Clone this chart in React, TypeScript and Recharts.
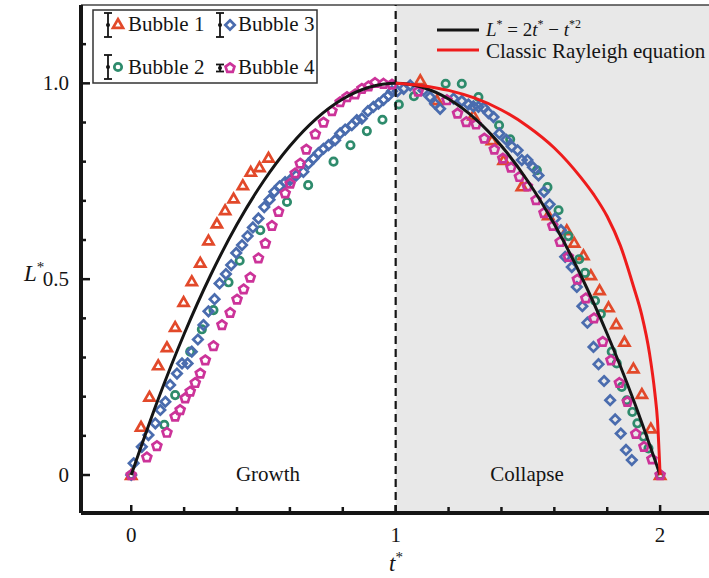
import React from 'react';
import { ComposedChart, Line, Scatter, XAxis, YAxis, ReferenceArea, ReferenceLine } from 'recharts';

const FONT = '"Liberation Serif", "Times New Roman", serif';
const INK = '#151515';

// Bubble 1 (triangles)
const bubble1T = [0, 0.037, 0.069, 0.102, 0.135, 0.166, 0.198, 0.229, 0.261, 0.292, 0.324, 0.355, 0.387, 0.422, 0.452, 0.485, 0.519,
  1.093, 1.156, 1.294, 1.364, 1.408, 1.477, 1.577, 1.647, 1.675, 1.71, 1.738, 1.771, 1.805, 1.834, 1.865, 1.899, 1.931, 1.965, 2.0];
const bubble1L = [0, 0.123, 0.2, 0.28, 0.326, 0.378, 0.442, 0.495, 0.542, 0.599, 0.642, 0.676, 0.706, 0.74, 0.774, 0.786, 0.81,
  1.008, 0.957, 0.918, 0.855, 0.804, 0.737, 0.663, 0.625, 0.593, 0.561, 0.51, 0.472, 0.428, 0.385, 0.34, 0.272, 0.207, 0.119, 0];

// Bubble 2 (circles)
const bubble2T = [0, 0.125, 0.166, 0.223, 0.267, 0.311, 0.368, 0.41, 0.488, 0.589, 0.669, 0.765, 0.829, 0.891, 0.95, 1.012, 1.069,
  1.189, 1.25, 1.313, 1.391, 1.433, 1.534, 1.574, 1.616, 1.653, 1.694, 1.716, 1.754, 1.776, 1.817, 1.836, 1.855, 1.874, 1.895,
  1.914, 1.937, 1.956, 2.0];
const bubble2L = [0, 0.128, 0.204, 0.315, 0.372, 0.421, 0.492, 0.547, 0.625, 0.697, 0.74, 0.8, 0.842, 0.878, 0.907, 0.946, 0.967,
  0.999, 0.999, 0.965, 0.893, 0.857, 0.778, 0.735, 0.676, 0.61, 0.551, 0.516, 0.445, 0.411, 0.315, 0.285, 0.225, 0.191, 0.161,
  0.132, 0.098, 0.068, 0];

// Bubble 3 (diamonds)
const bubble3T = [0, 0.009, 0.04, 0.065, 0.091, 0.11, 0.129, 0.147, 0.173, 0.192, 0.213, 0.229, 0.252, 0.273, 0.292, 0.315, 0.334,
  0.358, 0.378, 0.397, 0.419, 0.44, 0.46, 0.481, 0.503, 0.523, 0.541, 0.561, 0.582, 0.601, 0.624, 0.651, 0.67, 0.689, 0.708,
  0.727, 0.746, 0.771, 0.79, 0.809, 0.834, 0.853, 0.872, 0.895, 0.916, 0.935, 0.954, 0.973, 0.986, 1.007, 1.03, 1.055,
  1.105, 1.13, 1.149, 1.168, 1.219, 1.25, 1.275, 1.294, 1.313, 1.332, 1.351, 1.37, 1.392, 1.418, 1.439, 1.461, 1.477, 1.498,
  1.519, 1.54, 1.561, 1.582, 1.603, 1.625, 1.641, 1.666, 1.685, 1.706, 1.725, 1.748, 1.767, 1.788, 1.811, 1.83, 1.851, 1.871, 1.893];
const bubble3L = [0, 0.03, 0.072, 0.102, 0.132, 0.166, 0.187, 0.23, 0.259, 0.285, 0.285, 0.315, 0.346, 0.383, 0.418, 0.449, 0.489,
  0.513, 0.536, 0.567, 0.587, 0.61, 0.632, 0.655, 0.684, 0.703, 0.723, 0.737, 0.748, 0.753, 0.765, 0.774, 0.795, 0.808, 0.822,
  0.833, 0.842, 0.855, 0.872, 0.882, 0.893, 0.906, 0.91, 0.929, 0.94, 0.948, 0.958, 0.969, 0.98, 0.98, 0.986, 0.995,
  0.982, 0.965, 0.948, 0.935, 0.961, 0.955, 0.946, 0.941, 0.94, 0.938, 0.924, 0.914, 0.872, 0.856, 0.839, 0.829, 0.804, 0.804,
  0.786, 0.765, 0.723, 0.691, 0.655, 0.625, 0.557, 0.531, 0.48, 0.431, 0.389, 0.327, 0.283, 0.24, 0.191, 0.142, 0.106, 0.064, 0.038];

// Bubble 4 (pentagons)
const bubble4T = [0, 0.059, 0.097, 0.135, 0.166, 0.185, 0.204, 0.223, 0.242, 0.261, 0.28, 0.311, 0.343, 0.374, 0.4, 0.425, 0.45,
  0.481, 0.507, 0.532, 0.557, 0.582, 0.601, 0.62, 0.639, 0.662, 0.696, 0.727, 0.759, 0.79, 0.816, 0.847, 0.872, 0.897, 0.922,
  0.954, 0.986, 1.085, 1.194, 1.234, 1.267, 1.304, 1.335, 1.373, 1.405, 1.436, 1.468, 1.498, 1.531, 1.561, 1.594, 1.622, 1.653,
  1.687, 1.719, 1.75, 1.783, 1.814, 1.846, 1.876, 1.908, 1.939, 1.969, 2.0];
const bubble4L = [0, 0.045, 0.074, 0.108, 0.149, 0.166, 0.196, 0.213, 0.235, 0.259, 0.293, 0.329, 0.383, 0.414, 0.448, 0.474, 0.504,
  0.553, 0.591, 0.636, 0.672, 0.719, 0.744, 0.77, 0.795, 0.831, 0.87, 0.9, 0.929, 0.952, 0.965, 0.972, 0.986, 0.992, 1.001,
  0.999, 0.997, 0.979, 0.957, 0.923, 0.901, 0.895, 0.859, 0.831, 0.808, 0.785, 0.761, 0.737, 0.702, 0.669, 0.636, 0.595, 0.557,
  0.499, 0.451, 0.4, 0.34, 0.293, 0.235, 0.187, 0.105, 0.072, 0.04, 0];

// L* = 2t* - t*^2
const modelT = [0, 0.1, 0.2, 0.3, 0.4, 0.5, 0.6, 0.7, 0.8, 0.9, 1.0, 1.1, 1.2, 1.3, 1.4, 1.5, 1.6, 1.7, 1.8, 1.9, 2.0];
const modelL = [0, 0.19, 0.36, 0.51, 0.64, 0.75, 0.84, 0.91, 0.96, 0.99, 1.0, 0.99, 0.96, 0.91, 0.84, 0.75, 0.64, 0.51, 0.36, 0.19, 0];

// Classic Rayleigh equation
const rayleighT = [1.0, 1.1, 1.2, 1.3, 1.4, 1.5, 1.6, 1.7, 1.75, 1.8, 1.85, 1.9, 1.93, 1.96, 1.98, 1.99, 2.0];
const rayleighL = [1.0, 0.994, 0.982, 0.962, 0.932, 0.89, 0.835, 0.76, 0.715, 0.66, 0.585, 0.48, 0.41, 0.31, 0.21, 0.14, 0];

const xTicks = [0, 0.2, 0.4, 0.6, 0.8, 1, 1.2, 1.4, 1.6, 1.8, 2];
const yTicks = [0, 0.1, 0.2, 0.3, 0.4, 0.5, 0.6, 0.7, 0.8, 0.9, 1, 1.1];

const zip = (ts: number[], ls: number[]) => ts.map((t, i) => ({ t, L: ls[i] }));

const C1 = '#e2492a';
const C2 = '#2e8b6c';
const C3 = '#4a6cae';
const C4 = '#cc3399';
const SW = 2.7;

const poly = (cx: number, cy: number, r: number, n: number, rot: number) =>
  Array.from({ length: n }, (_, k) => {
    const a = ((rot + (360 / n) * k) * Math.PI) / 180;
    return `${cx + r * Math.cos(a)},${cy + r * Math.sin(a)}`;
  }).join(' ');

const Tri = ({ cx, cy }: any) => <polygon points={poly(cx, cy + 1, 5.8, 3, -90)} fill="none" stroke={C1} strokeWidth={SW} />;
const Circ = ({ cx, cy }: any) => <circle cx={cx} cy={cy} r={3.7} fill="none" stroke={C2} strokeWidth={SW} />;
const Dia = ({ cx, cy }: any) => <polygon points={poly(cx, cy, 4.7, 4, -90)} fill="none" stroke={C3} strokeWidth={SW} />;
const Pent = ({ cx, cy }: any) => <polygon points={poly(cx, cy, 4.7, 5, -90)} fill="none" stroke={C4} strokeWidth={SW} />;

const XTick = (props: any) => {
  const { x, y, payload } = props;
  const v = payload.value;
  const major = Math.abs(v - Math.round(v)) < 1e-6;
  return (
    <g>
      <line x1={x} x2={x} y1={y} y2={y - (major ? 8 : 6)} stroke={INK} strokeWidth={2.5} />
      {major && (
        <text x={x} y={y + 29} textAnchor="middle" fontFamily={FONT} fontSize={21} fill={INK}>{v}</text>
      )}
    </g>
  );
};

const YTick = (props: any) => {
  const { x, y, payload } = props;
  const v = payload.value;
  const major = Math.abs(v * 2 - Math.round(v * 2)) < 1e-6;
  const label = v === 0 ? '0' : v.toFixed(1);
  return (
    <g>
      <line x1={x} x2={x + (major ? 9 : 5)} y1={y} y2={y} stroke={INK} strokeWidth={2.5} />
      {major && (
        <text x={x - 12} y={y + 7} textAnchor="end" fontFamily={FONT} fontSize={21} fill={INK}>{label}</text>
      )}
    </g>
  );
};

const ErrBar = ({ x, y, h }: { x: number; y: number; h: number }) => (
  <g stroke={INK} strokeWidth={1.8}>
    <line x1={x} x2={x} y1={y - h} y2={y + h} />
    <line x1={x - 4} x2={x + 4} y1={y - h} y2={y - h} />
    <line x1={x - 4} x2={x + 4} y1={y + h} y2={y + h} />
    <circle cx={x} cy={y} r={2} fill={INK} stroke="none" />
  </g>
);

const Overlay = () => (
  <svg width={709} height={578} style={{ position: 'absolute', left: 0, top: 0, pointerEvents: 'none' }}>
    <g fontFamily={FONT} fill={INK}>
      {/* bubbles legend */}
      <rect x={93} y={10} width={224} height={73} fill="#fff" stroke="#333" strokeWidth={1.5} />
      <ErrBar x={108} y={25} h={12} />
      <Tri cx={118} cy={24} />
      <text x={128} y={31} fontSize={21}>Bubble 1</text>
      <ErrBar x={108} y={67} h={12} />
      <Circ cx={118} cy={67} />
      <text x={128} y={74} fontSize={21}>Bubble 2</text>
      <ErrBar x={220} y={25} h={12} />
      <Dia cx={230} cy={25} />
      <text x={238} y={31} fontSize={21}>Bubble 3</text>
      <ErrBar x={220} y={68} h={3.5} />
      <Pent cx={230} cy={68} />
      <text x={238} y={74} fontSize={21}>Bubble 4</text>

      {/* lines legend */}
      <line x1={437} x2={479} y1={30} y2={30} stroke={INK} strokeWidth={3} />
      <text x={486} y={36} fontSize={19}>
        <tspan fontStyle="italic">L</tspan>
        <tspan fontSize={12} dy={-8}>*</tspan>
        <tspan dy={8}> = 2</tspan>
        <tspan fontStyle="italic">t</tspan>
        <tspan fontSize={12} dy={-8}>*</tspan>
        <tspan dy={8}> − </tspan>
        <tspan fontStyle="italic">t</tspan>
        <tspan fontSize={12} dy={-8}>*2</tspan>
      </text>
      <line x1={437} x2={479} y1={50} y2={50} stroke="#ee1c1c" strokeWidth={3} />
      <text x={486} y={58} fontSize={21}>Classic Rayleigh equation</text>

      {/* annotations */}
      <text x={268} y={481} fontSize={21} textAnchor="middle">Growth</text>
      <text x={527} y={481} fontSize={21} textAnchor="middle">Collapse</text>

      {/* axis titles */}
      <text x={24} y={281} fontSize={23}>
        <tspan fontStyle="italic">L</tspan>
        <tspan fontSize={15} dy={-9}>*</tspan>
      </text>
      <text x={389} y={571} fontSize={23}>
        <tspan fontStyle="italic">t</tspan>
        <tspan fontSize={15} dy={-9}>*</tspan>
      </text>
    </g>
  </svg>
);

export default function App() {
  return (
    <div style={{ position: 'absolute', left: 0, top: 0, width: 709, height: 578, overflow: 'hidden', background: '#fff' }}>
      <ComposedChart width={720} height={578} margin={{ top: 5, right: 7, bottom: 0, left: 0 }}>
        <XAxis
          type="number"
          dataKey="t"
          domain={[-0.19, 2.2]}
          allowDataOverflow
          ticks={xTicks}
          tick={<XTick />}
          tickSize={0}
          tickMargin={0}
          tickLine={false}
          height={65}
          axisLine={{ stroke: INK, strokeWidth: 4 }}
        />
        <YAxis
          type="number"
          dataKey="L"
          domain={[-0.097, 1.2]}
          allowDataOverflow
          ticks={yTicks}
          tick={<YTick />}
          tickSize={0}
          tickMargin={0}
          tickLine={false}
          width={81}
          axisLine={{ stroke: INK, strokeWidth: 4 }}
        />
        <ReferenceArea x1={1} x2={2.2} y1={-0.097} y2={1.2} fill="#e8e8e8" fillOpacity={1} stroke="none" />
        <ReferenceLine y={1.2} stroke="#444" strokeWidth={1.5} />
        <Scatter data={zip(bubble1T, bubble1L)} shape={<Tri />} isAnimationActive={false} />
        <Scatter data={zip(bubble2T, bubble2L)} shape={<Circ />} isAnimationActive={false} />
        <Scatter data={zip(bubble3T, bubble3L)} shape={<Dia />} isAnimationActive={false} />
        <Scatter data={zip(bubble4T, bubble4L)} shape={<Pent />} isAnimationActive={false} />
        <ReferenceLine x={1} stroke={INK} strokeWidth={2.2} strokeDasharray="8 5" zIndex={700} />
        <Line data={zip(modelT, modelL)} dataKey="L" type="monotone" stroke={INK} strokeWidth={3} dot={false} isAnimationActive={false} zIndex={800} />
        <Line data={zip(rayleighT, rayleighL)} dataKey="L" type="monotone" stroke="#ee1c1c" strokeWidth={3} dot={false} isAnimationActive={false} zIndex={800} />
      </ComposedChart>
      <Overlay />
    </div>
  );
}
